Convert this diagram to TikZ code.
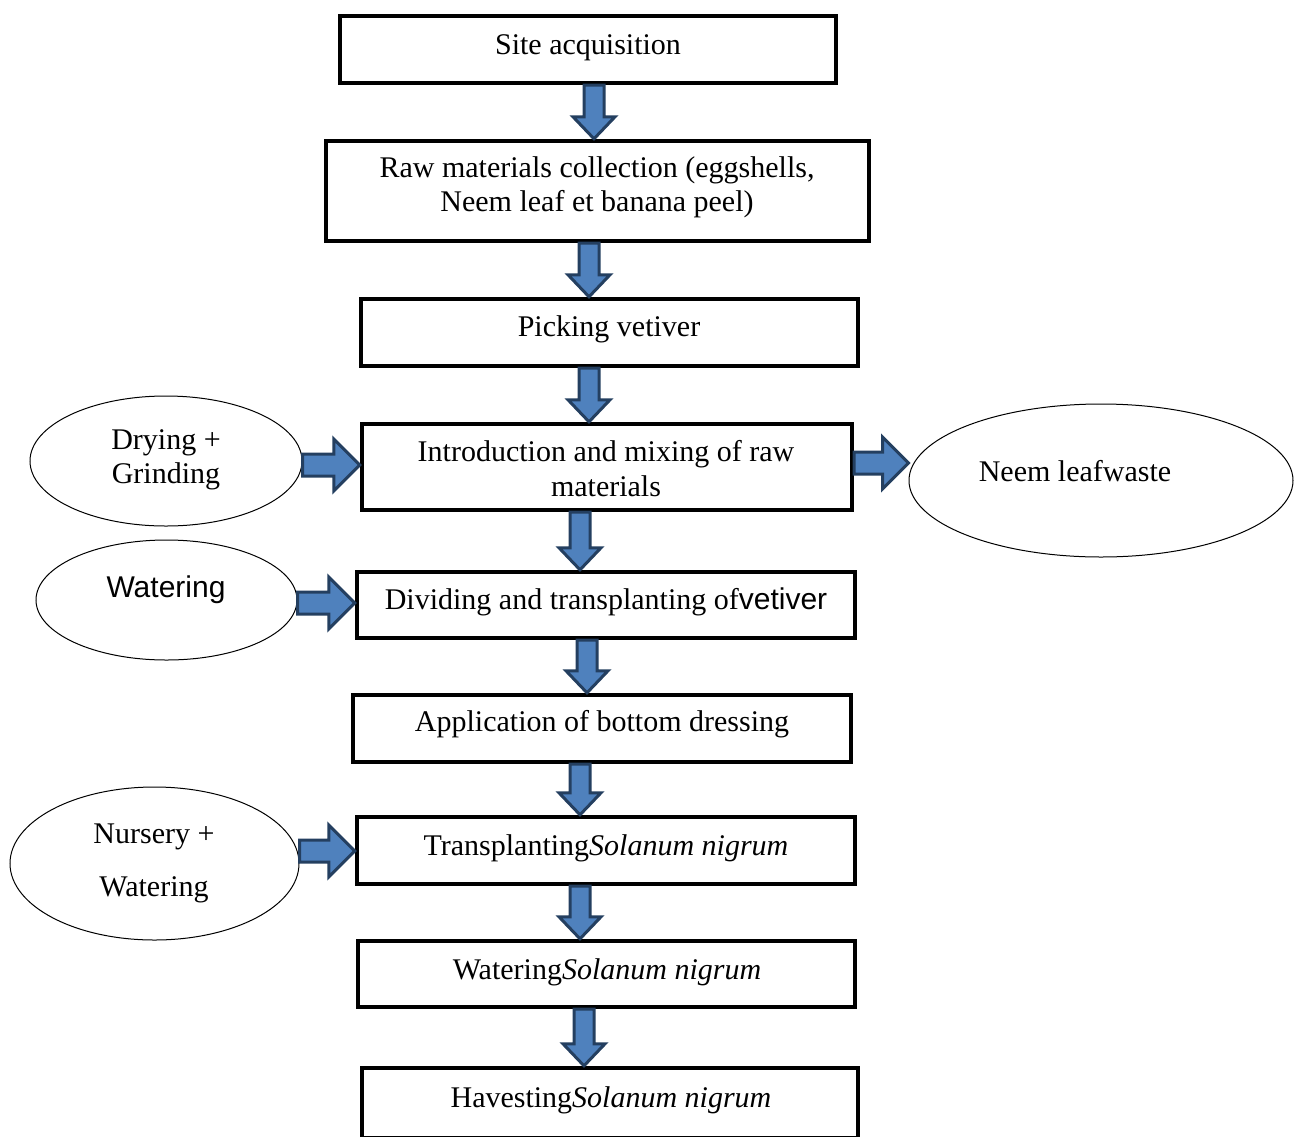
\documentclass[tikz,border=0pt]{standalone}
\usepackage{fontspec}
\setmainfont{Liberation Serif}
\newfontfamily\arialf{Liberation Sans}
\usetikzlibrary{calc,shapes.geometric}
\definecolor{arrowblue}{HTML}{4F81BD}
\definecolor{arrowdark}{HTML}{243F60}
\tikzset{
  box/.style={draw, line width=2.2pt, rectangle, fill=white, inner sep=0pt},
  oval/.style={draw, line width=0.5pt, ellipse, fill=white, inner sep=0pt},
  txt/.style={font=\fontsize{15}{17}\selectfont, inner sep=0pt, anchor=base},
  stxt/.style={font=\arialf\fontsize{15}{17}\selectfont, inner sep=0pt, anchor=base},
  barrow/.style={fill=arrowblue, draw=arrowdark, line width=1.5pt, line join=miter},
}
\newcommand\vblock[2]{%
  \draw[barrow] ($(#1)+(-10,0)$) -- ($(#1)+(10,0)$) -- ($(#2)+(10,-22)$) -- ($(#2)+(21,-22)$) -- (#2) -- ($(#2)+(-21,-22)$) -- ($(#2)+(-10,-22)$) -- cycle;}
\newcommand\hblock[2]{%
  \draw[barrow] ($(#1)+(0,-11)$) -- ($(#2)+(-26,-11)$) -- ($(#2)+(-26,-26)$) -- (#2) -- ($(#2)+(-26,26)$) -- ($(#2)+(-26,11)$) -- ($(#1)+(0,11)$) -- cycle;}
\begin{document}
\begin{tikzpicture}[x=0.5pt,y=-0.5pt]
\useasboundingbox (0,0) rectangle (1296,1136);
\clip (0,0) rectangle (1296,1136);
% boxes
\node[box, minimum width=248pt, minimum height=33.5pt] (b1) at (588,49.5) {};
\node[box, minimum width=271.5pt, minimum height=50pt] (b2) at (597.5,191) {};
\node[box, minimum width=248.5pt, minimum height=33.5pt] (b3) at (609.5,332.5) {};
\node[box, minimum width=245pt, minimum height=43pt] (b4) at (607,467) {};
\node[box, minimum width=249pt, minimum height=33pt] (b5) at (606,605) {};
\node[box, minimum width=249pt, minimum height=33.5pt] (b6) at (602,728.5) {};
\node[box, minimum width=249pt, minimum height=33.5pt] (b7) at (606,850.5) {};
\node[box, minimum width=248.5pt, minimum height=33pt] (b8) at (606.5,974) {};
\node[box, minimum width=248pt, minimum height=35pt] (b9) at (610,1103) {};
% ellipses
\node[oval, minimum width=136pt, minimum height=65pt] (e1) at (166,461) {};
\node[oval, minimum width=130.5pt, minimum height=60pt] (e2) at (166.5,600) {};
\node[oval, minimum width=144.5pt, minimum height=76.5pt] (e3) at (154.5,863.5) {};
\node[oval, minimum width=192pt, minimum height=76.5pt] (e4) at (1101,480.5) {};
% vertical arrows
\coordinate (a1s) at (b1.south -| 594,0); \coordinate (a1e) at (b2.north -| 594,0);
\coordinate (a2s) at (b2.south -| 589,0); \coordinate (a2e) at (b3.north -| 589,0);
\coordinate (a3s) at (b3.south -| 589,0); \coordinate (a3e) at (b4.north -| 589,0);
\coordinate (a4s) at (b4.south -| 580,0); \coordinate (a4e) at (b5.north -| 580,0);
\coordinate (a5s) at (b5.south -| 587,0); \coordinate (a5e) at (b6.north -| 587,0);
\coordinate (a6s) at (b6.south -| 580,0); \coordinate (a6e) at (b7.north -| 580,0);
\coordinate (a7s) at (b7.south -| 580,0); \coordinate (a7e) at (b8.north -| 580,0);
\coordinate (a8s) at (b8.south -| 584,0); \coordinate (a8e) at (b9.north -| 584,0);
\vblock{a1s}{a1e}
\vblock{a2s}{a2e}
\vblock{a3s}{a3e}
\vblock{a4s}{a4e}
\vblock{a5s}{a5e}
\vblock{a6s}{a6e}
\vblock{a7s}{a7e}
\vblock{a8s}{a8e}
% horizontal arrows
\coordinate (h1s) at (e1.east |- 0,465); \coordinate (h1e) at (b4.west |- 0,465);
\coordinate (h2s) at (e2.east |- 0,603); \coordinate (h2e) at (b5.west |- 0,603);
\coordinate (h3s) at (e3.east |- 0,851); \coordinate (h3e) at (b7.west |- 0,851);
\coordinate (h4s) at (b4.east |- 0,463); \coordinate (h4e) at (e4.west |- 0,463);
\hblock{h1s}{h1e}
\hblock{h2s}{h2e}
\hblock{h3s}{h3e}
\hblock{h4s}{h4e}
% texts
\node[txt] (t1) at (588,54) {Site acquisition};
\node[txt] (t2a) at (597,177) {Raw materials collection (eggshells,};
\node[txt] (t2b) at (597,211) {Neem leaf et banana peel)};
\node[txt] (t3) at (609,336) {Picking vetiver};
\node[txt] (t4a) at (606,461) {Introduction and mixing of raw};
\node[txt] (t4b) at (606,496) {materials};
\node[txt] (t5) at (606,609) {Dividing and transplanting of{\arialf vetiver}};
\node[txt] (t6) at (602,731) {Application of bottom dressing};
\node[txt] (t7) at (606,855) {Transplanting\textit{Solanum nigrum}};
\node[txt] (t8) at (607,979) {Watering\textit{Solanum nigrum}};
\node[txt] (t9) at (611,1107) {Havesting\textit{Solanum nigrum}};
\node[txt] (te1a) at (166,449) {Drying +};
\node[txt] (te1b) at (166,483) {Grinding};
\node[stxt] (te2) at (166,597) {Watering};
\node[txt] (te3a) at (154,843) {Nursery +};
\node[txt] (te3b) at (154,896) {Watering};
\node[txt] (te4) at (1075,481) {Neem leafwaste};
\end{tikzpicture}
\end{document}
